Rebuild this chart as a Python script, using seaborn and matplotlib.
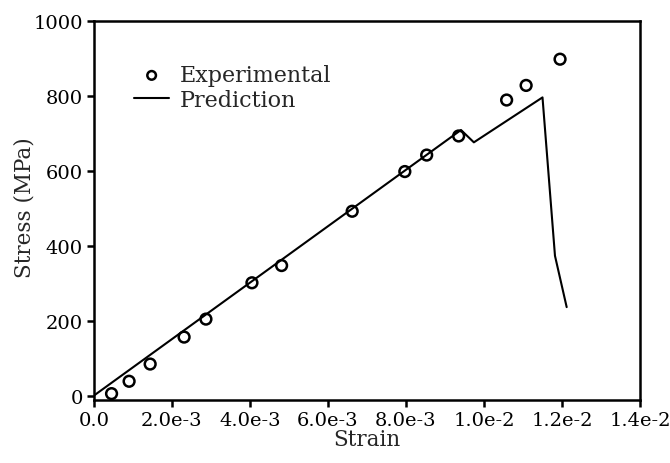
import matplotlib
matplotlib.use("Agg")
import matplotlib.pyplot as plt
import seaborn as sns
import pandas as pd

# Experimental data (strain, stress MPa)
exp_strain = [0.45e-3, 0.90e-3, 1.44e-3, 2.31e-3, 2.87e-3, 4.05e-3, 4.81e-3,
              6.62e-3, 7.97e-3, 8.53e-3, 9.35e-3, 10.58e-3, 11.08e-3, 11.95e-3]
exp_stress = [5, 38, 84, 156, 204, 301, 347, 492, 598, 642, 693, 789, 828, 898]

# Prediction curve
pred_strain = [0.0, 9.41e-3, 9.74e-3, 11.5e-3, 11.82e-3, 12.12e-3]
pred_stress = [0, 709, 676, 796, 373, 236]

x_ticks = [0.0, 2e-3, 4e-3, 6e-3, 8e-3, 1e-2, 1.2e-2, 1.4e-2]
x_tick_labels = ["0.0", "2.0e-3", "4.0e-3", "6.0e-3", "8.0e-3", "1.0e-2", "1.2e-2", "1.4e-2"]
y_ticks = [0, 200, 400, 600, 800, 1000]
y_tick_labels = ["0", "200", "400", "600", "800", "1000"]

sns.set_style("ticks")
plt.rcParams["font.family"] = ["DejaVu Serif"]

fig = plt.figure(figsize=(6.7, 4.64), dpi=100)
ax = fig.add_axes([94/670, 1-401/464, (640-94)/670, (401-22)/464])

df_exp = pd.DataFrame({"Strain": exp_strain, "Stress": exp_stress})
df_pred = pd.DataFrame({"Strain": pred_strain, "Stress": pred_stress})

sns.lineplot(data=df_pred, x="Strain", y="Stress", ax=ax, color="black",
             linewidth=1.5, sort=False, estimator=None, label="Prediction", zorder=2)
sns.scatterplot(data=df_exp, x="Strain", y="Stress", ax=ax, marker="o",
                s=60, facecolor="none", edgecolor="black", linewidth=1.8,
                label="Experimental", zorder=3)

ax.set_xlim(0, 0.014)
ax.set_ylim(-12, 1000)
ax.set_xticks(x_ticks)
ax.set_xticklabels(x_tick_labels)
ax.set_yticks(y_ticks)
ax.set_yticklabels(y_tick_labels)
ax.tick_params(axis="both", direction="out", length=5, width=1.8, labelsize=14,
               colors="black", pad=3)
for sp in ax.spines.values():
    sp.set_visible(True)
    sp.set_linewidth(1.8)
    sp.set_color("black")

ax.set_xlabel("Strain", fontsize=15.5)
ax.set_ylabel("Stress (MPa)", fontsize=15.5)
ax.xaxis.set_label_coords(0.5, -0.075)
ax.yaxis.set_label_coords(-0.108, 0.51)

handles, labels = ax.get_legend_handles_labels()
order = [labels.index("Experimental"), labels.index("Prediction")]
ax.legend([handles[i] for i in order], [labels[i] for i in order],
          loc="upper left", bbox_to_anchor=(0.073, 0.886), frameon=False,
          fontsize=16, handlelength=1.6, handletextpad=0.45, labelspacing=0.12,
          borderaxespad=0, borderpad=0, markerscale=0.8)

fig.savefig("out.png", dpi=100)
